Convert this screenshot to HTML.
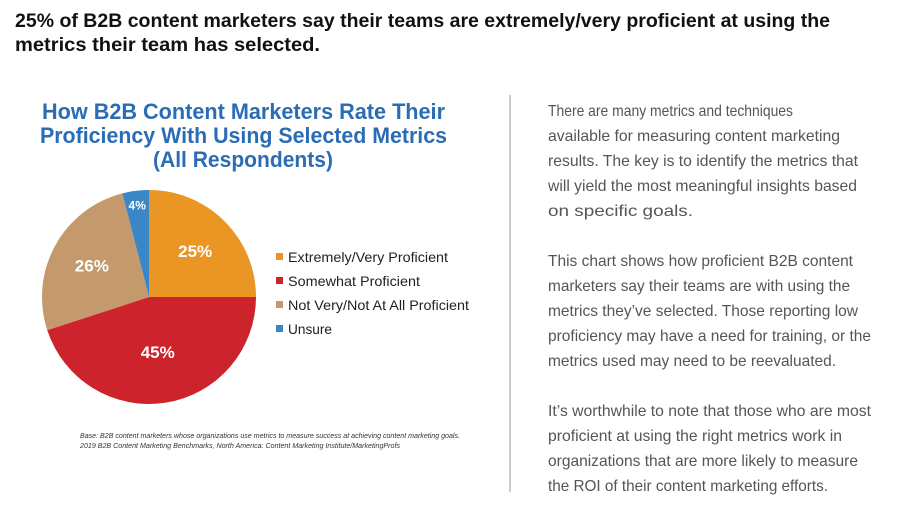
<!DOCTYPE html>
<html><head><meta charset="utf-8"><style>
html,body{margin:0;padding:0;background:#fff;width:900px;height:506px;overflow:hidden}
svg text{font-family:"Liberation Sans",sans-serif}
</style></head><body>
<svg width="900" height="506" viewBox="0 0 900 506">
<g font-weight="bold" font-size="19" fill="#111">
<text x="15" y="27" textLength="815" lengthAdjust="spacingAndGlyphs">25% of B2B content marketers say their teams are extremely/very proficient at using the</text>
<text x="15" y="51" textLength="305" lengthAdjust="spacingAndGlyphs">metrics their team has selected.</text>
</g>
<g font-weight="bold" font-size="22" fill="#2a6db5">
<text x="42" y="119" textLength="403" lengthAdjust="spacingAndGlyphs">How B2B Content Marketers Rate Their</text>
<text x="40" y="143" textLength="407" lengthAdjust="spacingAndGlyphs">Proficiency With Using Selected Metrics</text>
<text x="153" y="167" textLength="180" lengthAdjust="spacingAndGlyphs">(All Respondents)</text>
</g>
<g id="pie"></g>
<g id="legend"></g>
<g font-style="italic" font-size="7" fill="#333">
<text x="80" y="438" textLength="380" lengthAdjust="spacingAndGlyphs">Base: B2B content marketers whose organizations use metrics to measure success at achieving content marketing goals.</text>
<text x="80" y="448" textLength="320" lengthAdjust="spacingAndGlyphs">2019 B2B Content Marketing Benchmarks, North America: Content Marketing Institute/MarketingProfs</text>
</g>
<line x1="510" y1="95" x2="510" y2="492" stroke="#999" stroke-width="1"/>
<g id="body" font-size="16" fill="#555"></g>
</svg>
<script>
const categories=["Extremely/Very Proficient","Somewhat Proficient","Not Very/Not At All Proficient","Unsure"];
const values=[25,45,26,4];
const colors=["#e99624","#cd232c","#c49a6c","#3a87c8"];
const legendWidths=[160,132,181,44];
const NS="http://www.w3.org/2000/svg";
function mk(t,a,p){const e=document.createElementNS(NS,t);for(const k in a)e.setAttribute(k,a[k]);p.appendChild(e);return e;}
const cx=149,cy=297,r=107;
const total=values.reduce((a,b)=>a+b,0);
const pie=document.getElementById('pie');
function pt(a,rr){return [cx+rr*Math.sin(a),cy-rr*Math.cos(a)];}
let acc=0;
values.forEach((v,i)=>{
 const a0=acc/total*2*Math.PI;acc+=v;const a1=acc/total*2*Math.PI;
 const [x0,y0]=pt(a0,r),[x1,y1]=pt(a1,r);
 const large=(a1-a0)>Math.PI?1:0;
 const p=mk('path',{d:`M${cx},${cy}L${x0},${y0}A${r},${r} 0 ${large} 1 ${x1},${y1}Z`,fill:colors[i]},pie);
 
 
 const frac=v/total;
 const lr=frac<0.08?r*0.88:(frac>0.4?r*0.52:r*0.61);
 const [lx,ly]=pt((a0+a1)/2,lr);
 const t=mk('text',{x:lx,y:ly+6,'text-anchor':'middle','font-weight':'bold','font-size':frac<0.08?12:17,fill:'#fff'},pie);
 t.textContent=v+'%';
 
 
});
const lg=document.getElementById('legend');
categories.forEach((c,i)=>{
 const y=262+i*24;
 const s=mk('rect',{x:276,y:y-9,width:7,height:7,fill:colors[i]},lg);
 
 
 const t=mk('text',{x:288,y:y,'font-size':14,fill:'#222',textLength:legendWidths[i],lengthAdjust:'spacingAndGlyphs'},lg);
 t.textContent=c;
 
 
});
const lines=[
["There are many metrics and techniques",245],
["available for measuring content marketing",292],
["results. The key is to identify the metrics that",310],
["will yield the most meaningful insights based",309],
["on specific goals.",145],
null,
["This chart shows how proficient B2B content",305],
["marketers say their teams are with using the",302],
["metrics they’ve selected. Those reporting low",310],
["proficiency may have a need for training, or the",323],
["metrics used may need to be reevaluated.",288],
null,
["It’s worthwhile to note that those who are most",323],
["proficient at using the right metrics work in",294],
["organizations that are more likely to measure",310],
["the ROI of their content marketing efforts.",280]];
const body=document.getElementById('body');
lines.forEach((l,i)=>{
 if(!l)return;
 const t=mk('text',{x:548,y:116+25*i,textLength:l[1],lengthAdjust:'spacingAndGlyphs'},body);
 t.textContent=l[0];
 
 
});
</script>
</body></html>
